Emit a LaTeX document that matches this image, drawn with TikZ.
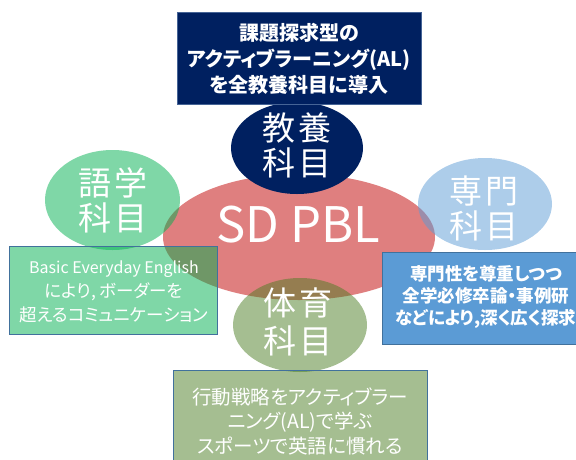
\documentclass[tikz,border=0pt]{standalone}
\usepackage{fontspec}
\setmainfont{Noto Sans CJK JP}
\newfontfamily\pfont[RawFeature=+palt]{Noto Sans CJK JP}
\usetikzlibrary{shapes.geometric}
\definecolor{navyc}{RGB}{0,32,96}
\definecolor{redc}{RGB}{192,0,0}
\definecolor{greenc}{RGB}{0,176,80}
\definecolor{bluec}{RGB}{91,155,213}
\definecolor{olivec}{RGB}{75,125,35}
\definecolor{edgec}{RGB}{65,113,156}
\definecolor{edgetop}{RGB}{70,100,150}
\newcommand{\gp}{\hspace{4pt}}
\begin{document}
\begin{tikzpicture}[x=1pt,y=-1pt,
  blob/.style={ellipse, draw=none, inner sep=0pt},
  boxshape/.style={rectangle, draw=edgec, line width=0.8pt, inner sep=0pt},
  eltext/.style={text=white, font=\fontsize{33}{35}\selectfont, align=center, inner sep=0pt},
  boxtext/.style={text=white, align=center, inner sep=0pt}]
\useasboundingbox (0,0) rectangle (576,459);
% ellipses
\node[blob, fill=redc, fill opacity=0.5, minimum width=272pt, minimum height=126pt] (pbl) at (299,237) {};
\node[blob, fill=greenc, fill opacity=0.5, minimum width=135pt, minimum height=100pt] (gogaku) at (112.5,200) {};
\node[blob, fill=bluec, fill opacity=0.5, minimum width=134pt, minimum height=92pt] (senmon) at (485,204) {};
\node[blob, fill=olivec, fill opacity=0.5, minimum width=134pt, minimum height=94pt] (taiiku) at (300,325) {};
\node[blob, fill=navyc, minimum width=132pt, minimum height=92pt] (kyoyo) at (297,148) {};
% boxes
\node[boxshape, draw=edgetop, fill=navyc, minimum width=244pt, minimum height=92pt] (topbox) at (299,58) {};
\node[boxshape, fill=greenc, fill opacity=0.5, minimum width=208pt, minimum height=88pt] (leftbox) at (113,290) {};
\node[boxshape, fill=bluec, minimum width=196pt, minimum height=92pt] (rightbox) at (480,298) {};
\node[boxshape, fill=olivec, fill opacity=0.5, minimum width=254pt, minimum height=92pt] (bottombox) at (300,416) {};
% texts
\node[text=white, inner sep=0pt, font=\fontsize{49}{52}\selectfont] (pbltext) at (298,225) {SD PBL};
\node[eltext] (kyoyotext) at (297,145) {教\gp 養\\科\gp 目};
\node[eltext] (gogakutext) at (113,200.5) {語\gp 学\\科\gp 目};
\node[eltext] (senmontext) at (484,208.5) {専\gp 門\\科\gp 目};
\node[eltext, font=\fontsize{33}{38}\selectfont] (taiikutext) at (298,322) {体\gp 育\\科\gp 目};
\node[boxtext, font=\pfont\bfseries\fontsize{20}{26}\selectfont] (toptext) at (299,59) {課題探求型の\\アクティブラーニング(AL)\\を全教養科目に導入};
\node[boxtext, font=\pfont\fontsize{17.5}{24}\selectfont] (lefttext) at (114,292) {{\fontsize{16}{24}\selectfont Basic Everyday English}\\により, ボーダーを\\超えるコミュニケーション};
\node[boxtext, font=\pfont\bfseries\fontsize{17.5}{22}\selectfont] (righttext) at (486,297) {専門性を尊重しつつ\\全学必修卒論・事例研\\などにより,深く広く探求};
\node[boxtext, font=\pfont\fontsize{19.5}{24.5}\selectfont] (bottomtext) at (300,421) {行動戦略をアクティブラー\\ニング(AL)で学ぶ\\スポーツで英語に慣れる};
\end{tikzpicture}
\end{document}
